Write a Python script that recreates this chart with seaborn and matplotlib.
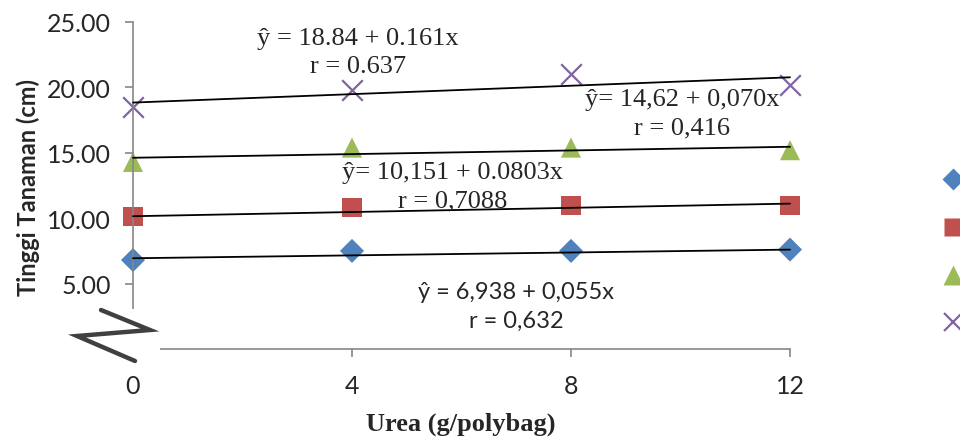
import matplotlib
matplotlib.use("Agg")
import matplotlib.pyplot as plt
import seaborn as sns
import numpy as np
import pandas as pd
from matplotlib.lines import Line2D
from matplotlib.patches import Rectangle

# ---- data ----
urea = [0, 4, 8, 12]
series_names = ["U1", "U2", "U3", "U4"]
vals_blue = [6.8, 7.5, 7.5, 7.6]
vals_red = [10.1, 10.85, 10.95, 11.0]
vals_green = [14.3, 15.4, 15.4, 15.2]
vals_purple = [18.5, 19.8, 21.0, 20.2]
intercepts = [6.938, 10.151, 14.62, 18.84]
slopes = [0.055, 0.0803, 0.070, 0.161]
eq_texts = ["ŷ = 6,938 + 0,055x\nr = 0,632",
            "ŷ= 10,151 + 0.0803x\nr = 0,7088",
            "ŷ= 14,62 + 0,070x\nr = 0,416",
            "ŷ = 18.84 + 0.161x\nr = 0.637"]
yticks = [5, 10, 15, 20, 25]
xticks = [0, 4, 8, 12]

colors = ["#4F81BD", "#C0504D", "#9BBB59", "#8064A2"]
markers = ["D", "s", "^", "x"]
msizes = [150, 190, 210, 220]

sns.set_style("white")
plt.rcParams['font.family'] = ['Lato', 'DejaVu Sans']

fig = plt.figure(figsize=(9.6, 4.39), dpi=100)
ax = fig.add_axes([133/960, 1-350/439, (790-133)/960, (350-23)/439])

all_vals = [vals_blue, vals_red, vals_green, vals_purple]
df = pd.DataFrame({
    "x": urea * 4,
    "y": sum(all_vals, []),
    "s": sum([[n]*4 for n in series_names], []),
})

# trend lines
for i, n in enumerate(series_names):
    xs = np.array([urea[0], urea[-1]])
    ys = intercepts[i] + slopes[i] * xs
    sns.lineplot(x=xs, y=ys, ax=ax, color="black", lw=1.3, zorder=3, clip_on=False)

for i, n in enumerate(series_names):
    sub = df[df.s == n]
    if markers[i] == "x":
        sns.scatterplot(data=sub, x="x", y="y", ax=ax, marker="x", color=colors[i],
                        s=msizes[i], linewidth=1.6, zorder=2, clip_on=False)
    else:
        sns.scatterplot(data=sub, x="x", y="y", ax=ax, marker=markers[i], color=colors[i],
                        s=msizes[i], edgecolor="none", zorder=2, clip_on=False)

ax.set_xlim(0, 12)
ax.set_ylim(0, 25)
ax.set_xticks(xticks)
ax.set_xticklabels([str(v) for v in xticks])
ax.set_yticks(yticks)
ax.set_yticklabels([f"{v:.2f}" for v in yticks])
for sp in ["top", "right"]:
    ax.spines[sp].set_visible(False)
for sp in ["left", "bottom"]:
    ax.spines[sp].set_color("#868686")
    ax.spines[sp].set_linewidth(1.2)
ax.tick_params(axis="both", direction="out", length=6, width=1.2, color="#868686",
               labelsize=18, left=True, bottom=True)
ax.tick_params(axis="x", pad=12)
ax.tick_params(axis="y", pad=10)
ax.set_xlabel("")
ax.set_ylabel("")

# equation annotations (centered positions in data coordinates)
eq_pos = [(7.0, 3.29, "sans", 17, 1.45), (5.83, 12.42, "serif", 19, 1.38),
          (10.03, 18.04, "serif", 19, 1.38), (4.11, 22.7, "serif", 19, 1.38)]
for txt, (xp, yp, fam, fs, lsp) in zip(eq_texts, eq_pos):
    fam_list = ['Lato', 'DejaVu Sans'] if fam == "sans" else ['Liberation Serif', 'DejaVu Serif']
    ax.text(xp, yp, txt, ha="center", va="center", fontsize=fs, family=fam_list,
            linespacing=lsp, zorder=4)

# axis titles
fig.text(28/960, 1-187/439, "Tinggi Tanaman (cm)", rotation=90, ha="center", va="center",
         fontsize=17, fontweight="bold")
fig.text(461/960, 1-424/439, "Urea (g/polybag)", ha="center", va="center",
         fontsize=19, fontweight="bold", family=['Liberation Serif', 'DejaVu Serif'])

# axis break symbol
fig.patches.append(Rectangle((62/960, 1-367/439), 98/960, 57/439, transform=fig.transFigure,
                             facecolor="white", edgecolor="none", zorder=10))
zx = np.array([101, 150, 77, 135]) / 960
zy = 1 - np.array([311, 331, 337, 362]) / 439
fig.lines.append(Line2D(zx, zy, transform=fig.transFigure, color="black", lw=3.2,
                        alpha=0.75, solid_joinstyle="miter", solid_capstyle="round", zorder=11))

# legend (labels cropped off in the reference)
handles = []
for i in range(4):
    if markers[i] == "x":
        h = Line2D([], [], marker="x", color=colors[i], ls="none", ms=13, mew=1.6)
    else:
        ms = {"D": 11, "s": 13, "^": 14}[markers[i]]
        h = Line2D([], [], marker=markers[i], color=colors[i], ls="none", ms=ms, mec="none")
    handles.append(h)
fig.legend(handles, ["", "", "", ""], loc="center", bbox_to_anchor=(953/960, 1-252.5/439),
           frameon=False, fontsize=10, labelspacing=2.58, handlelength=1.0,
           handletextpad=0.0, borderpad=0)

fig.savefig("out.png", dpi=100)
